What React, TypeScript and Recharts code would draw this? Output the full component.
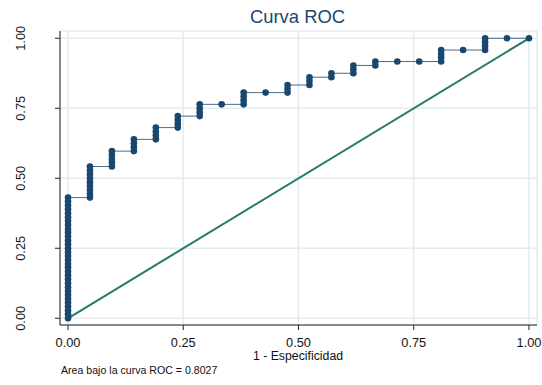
import React from 'react';
import { ComposedChart, Scatter, XAxis, YAxis, CartesianGrid } from 'recharts';

// 1 - specificity for each column of the ROC staircase
const columnFpr = [
  0, 0.0476, 0.0952, 0.1429, 0.1905, 0.2381, 0.2857, 0.3333, 0.381, 0.4286, 0.4762,
  0.5238, 0.5714, 0.619, 0.6667, 0.7143, 0.7619, 0.8095, 0.8571, 0.9048, 0.9524, 1,
];

// sensitivity values plotted at each column (one entry per cutoff)
const columnTpr = [
  [0, 0.014, 0.028, 0.042, 0.056, 0.069, 0.083, 0.097, 0.111, 0.125, 0.139, 0.153, 0.167, 0.181, 0.194, 0.208,
    0.222, 0.236, 0.25, 0.264, 0.278, 0.292, 0.306, 0.319, 0.333, 0.347, 0.361, 0.375, 0.389, 0.403, 0.417, 0.431],
  [0.431, 0.444, 0.458, 0.472, 0.486, 0.5, 0.514, 0.528, 0.542],
  [0.542, 0.556, 0.569, 0.583, 0.597],
  [0.597, 0.611, 0.625, 0.639],
  [0.639, 0.653, 0.667, 0.681],
  [0.681, 0.694, 0.708, 0.722],
  [0.722, 0.736, 0.75, 0.764],
  [0.764],
  [0.764, 0.778, 0.792, 0.806],
  [0.806],
  [0.806, 0.819, 0.833],
  [0.833, 0.847, 0.861],
  [0.861, 0.875],
  [0.875, 0.889, 0.903],
  [0.903, 0.917],
  [0.917],
  [0.917],
  [0.917, 0.931, 0.944, 0.958],
  [0.958],
  [0.958, 0.972, 0.986, 1],
  [1],
  [1],
];

const diagonalFpr = [0, 1];
const diagonalTpr = [0, 1];

const tickValues = [0, 0.25, 0.5, 0.75, 1];
const titleText = 'Curva ROC';
const xLabel = '1 - Especificidad';
const noteText = 'Area bajo la curva ROC = 0.8027';

const rocPoints = columnFpr.flatMap((x, i) => columnTpr[i].map((y) => ({ x, y })));
const diagonalPoints = diagonalFpr.map((x, i) => ({ x, y: diagonalTpr[i] }));

const FONT = '"Liberation Sans", Arial, sans-serif';
const NAVY = '#1a476f';

const XTick = (p: any) => (
  <text x={p.x} y={347} textAnchor="middle" fontSize={12.8} fontFamily={FONT} fill="#111">
    {Number(p.payload.value).toFixed(2)}
  </text>
);

const YTick = (p: any) => (
  <text
    x={25}
    y={p.y}
    textAnchor="middle"
    fontSize={12.8}
    fontFamily={FONT}
    fill="#111"
    transform={`rotate(-90, 25, ${p.y})`}
  >
    {Number(p.payload.value).toFixed(2)}
  </text>
);

const Dot = (p: any) => <circle cx={p.cx} cy={p.cy} r={3.3} fill={NAVY} />;
const NoDot = () => <g />;

export default function App() {
  return (
    <div style={{ position: 'absolute', left: 0, top: 0, width: 542, height: 385, background: '#fff' }}>
      <ComposedChart width={542} height={385} margin={{ top: 31, right: 5, left: 0, bottom: 0 }}>
        <CartesianGrid stroke="#e4ecf0" strokeWidth={1.6} />
        <XAxis
          type="number"
          dataKey="x"
          domain={[-0.0174, 1.0174]}
          allowDataOverflow
          ticks={tickValues}
          interval={0}
          height={60}
          tickSize={5}
          axisLine={{ stroke: '#222', strokeWidth: 1 }}
          tickLine={{ stroke: '#222', strokeWidth: 1 }}
          tick={<XTick />}
        />
        <YAxis
          type="number"
          dataKey="y"
          domain={[-0.024, 1.026]}
          allowDataOverflow
          ticks={tickValues}
          interval={0}
          width={60}
          tickSize={5}
          axisLine={{ stroke: '#222', strokeWidth: 1 }}
          tickLine={{ stroke: '#222', strokeWidth: 1 }}
          tick={<YTick />}
        />
        <Scatter
          data={diagonalPoints}
          isAnimationActive={false}
          line={{ stroke: '#257a67', strokeWidth: 2 }}
          lineType="joint"
          shape={<NoDot />}
        />
        <Scatter
          data={rocPoints}
          isAnimationActive={false}
          line={{ stroke: NAVY, strokeWidth: 0.8 }}
          lineType="joint"
          shape={<Dot />}
          fill={NAVY}
        />
      </ComposedChart>
      <svg
        width={542}
        height={385}
        style={{ position: 'absolute', left: 0, top: 0, pointerEvents: 'none' }}
      >
        <text x={297.5} y={23} textAnchor="middle" fontSize={18.4} fontFamily={FONT} fill={NAVY}>
          {titleText}
        </text>
        <text x={298} y={360} textAnchor="middle" fontSize={12.3} fontFamily={FONT} fill="#111">
          {xLabel}
        </text>
        <text x={61} y={374} textAnchor="start" fontSize={10.6} fontFamily={FONT} fill="#111">
          {noteText}
        </text>
      </svg>
    </div>
  );
}
